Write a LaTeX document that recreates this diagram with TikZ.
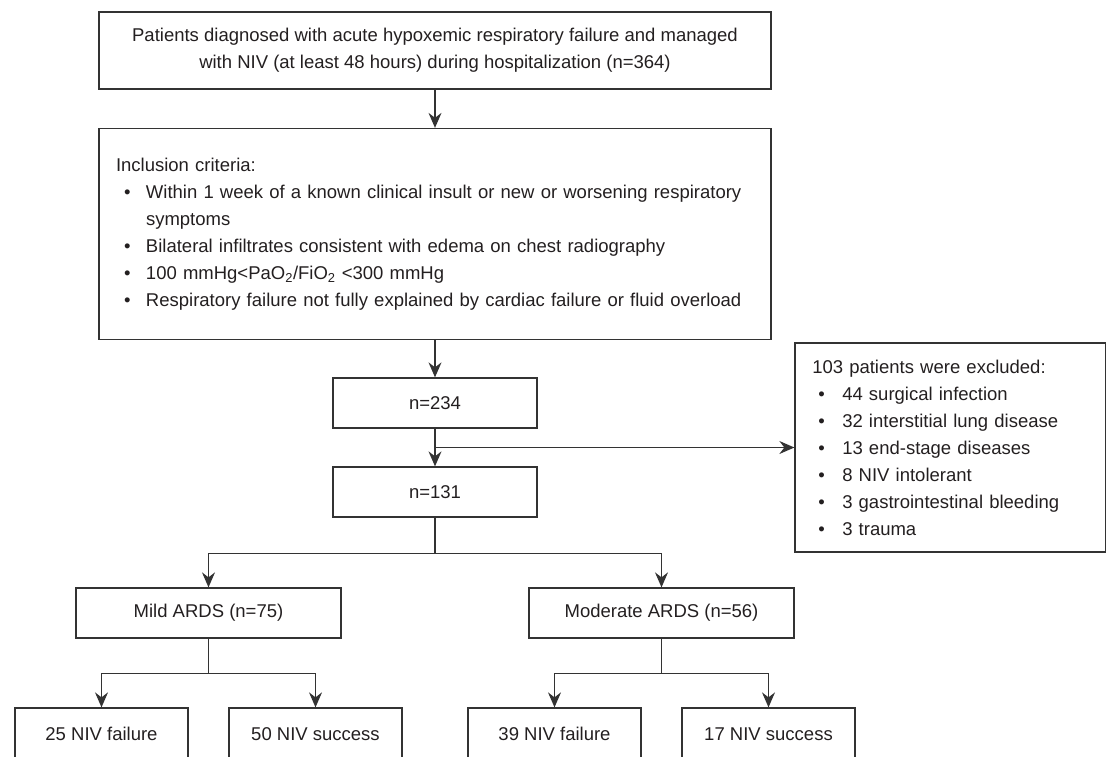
\documentclass[tikz,border=0pt]{standalone}
\usepackage{fontspec}
\setmainfont{Liberation Sans}
\usetikzlibrary{arrows.meta}
\definecolor{ln}{HTML}{333333}
\definecolor{tx}{HTML}{231F20}
\tikzset{
  box/.style={draw=ln, line width=1.3pt, inner sep=0pt, text=tx,
    font=\fontsize{18.5}{27}\selectfont, align=center},
  smallbox/.style={box, minimum width=204pt, minimum height=50pt},
  midbox/.style={box, minimum width=265pt, minimum height=50pt},
  leafbox/.style={box, minimum width=173pt, minimum height=52pt},
  conn/.style={draw=ln, line width=1.3pt},
  arr/.style={conn, -{Stealth[length=15pt,width=13pt,inset=5pt]}},
}
\newcommand\bitem[2][8pt]{\par\noindent\hspace*{#1}\makebox[\dimexpr30pt-#1\relax][l]{\textbullet}\mbox{#2}}
\newcommand\bcont[1]{\par\noindent\hspace*{30pt}\mbox{#1}}
\begin{document}
\begin{tikzpicture}[x=1pt,y=-1pt]
\useasboundingbox (0,0) rectangle (1107,756);
\clip (0,0) rectangle (1107,756);

\node[box, minimum width=672pt, minimum height=77pt] (top) at (435,50.5)
  {Patients diagnosed with acute hypoxemic respiratory failure and managed\\
   with NIV (at least 48 hours) during hospitalization (n=364)};

\node[box, minimum width=672pt, minimum height=211pt, text width=638pt, align=left] (inc) at (435,234)
  {Inclusion criteria:%
   \bitem{Within 1 week of a known clinical insult or new or worsening respiratory}%
   \bcont{symptoms}%
   \bitem{Bilateral infiltrates consistent with edema on chest radiography}%
   \bitem{100 mmHg<PaO\textsubscript{2}/FiO\textsubscript{2} <300 mmHg}%
   \bitem{Respiratory failure not fully explained by cardiac failure or fluid overload}};

\node[smallbox] (n234) at (435,403) {n=234};
\node[smallbox] (n131) at (435,492) {n=131};

\node[box, minimum width=310.5pt, minimum height=209pt, text width=276pt, align=left] (exc) at (950.25,447.5)
  {103 patients were excluded:%
   \bitem[6pt]{44 surgical infection}%
   \bitem[6pt]{32 interstitial lung disease}%
   \bitem[6pt]{13 end-stage diseases}%
   \bitem[6pt]{8 NIV intolerant}%
   \bitem[6pt]{3 gastrointestinal bleeding}%
   \bitem[6pt]{3 trauma}};

\node[midbox] (mild) at (208.5,613) {Mild ARDS (n=75)};
\node[midbox] (mod) at (661.5,613) {Moderate ARDS (n=56)};

\node[leafbox] (f1) at (101.5,734) {25 NIV failure};
\node[leafbox] (s1) at (315.5,734) {50 NIV success};
\node[leafbox] (f2) at (554.5,734) {39 NIV failure};
\node[leafbox] (s2) at (768.5,734) {17 NIV success};

\draw[arr] (top.south) -- (inc.north);
\draw[arr] (inc.south) -- (n234.north);
\draw[arr] (n234.south) -- (n131.north);
\draw[arr] (n234.south |- exc.west) -- (exc.west);

\draw[arr] (n131.south) -- ++(0,36) -| (mild.north);
\draw[arr] (n131.south) -- ++(0,36) -| (mod.north);

\draw[arr] (mild.south) -- ++(0,35) -| (f1.north);
\draw[arr] (mild.south) -- ++(0,35) -| (s1.north);
\draw[arr] (mod.south) -- ++(0,35) -| (f2.north);
\draw[arr] (mod.south) -- ++(0,35) -| (s2.north);
\end{tikzpicture}
\end{document}
